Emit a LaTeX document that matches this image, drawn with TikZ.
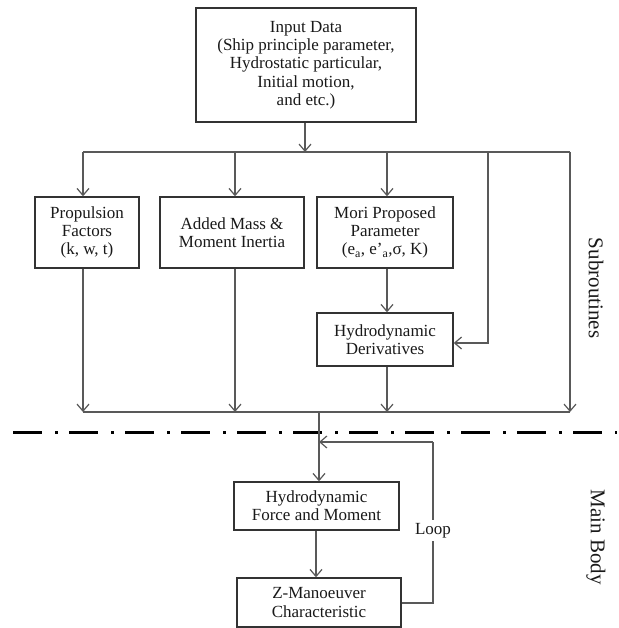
\documentclass[tikz,border=0pt]{standalone}
\usepackage{fontspec}
\setmainfont{Liberation Serif}
\usetikzlibrary{arrows.meta}
\tikzset{
  box/.style={draw=black!80, line width=1.4pt, align=center, inner sep=2pt,
    font=\fontsize{17}{18.3}\selectfont, text=black!90},
  conn/.style={draw=black!65, line width=1.2pt},
  arr/.style={conn, -{Straight Barb[length=7pt,width=12pt,line width=1.2pt]}},
  side/.style={font=\fontsize{21}{24}\selectfont, rotate=-90, text=black!90},
  divider/.style={line width=3pt, black, dash pattern=on 29pt off 13pt on 3pt off 11pt}
}
\begin{document}
\begin{tikzpicture}[x=1pt,y=-1pt]
\useasboundingbox (0,0) rectangle (618,628);
% boxes
\node[box, minimum width=220pt, minimum height=114pt] (input) at (306,65)
  {Input Data\\(Ship principle parameter,\\Hydrostatic particular,\\Initial motion,\\and etc.)};
\node[box, minimum width=104pt, minimum height=71pt] (prop) at (87,232.5)
  {Propulsion\\Factors\\(k, w, t)};
\node[box, minimum width=144pt, minimum height=71pt] (added) at (232,232.5)
  {Added Mass \&\\Moment Inertia};
\node[box, minimum width=136pt, minimum height=71pt] (mori) at (385,232.5)
  {Mori Proposed\\Parameter\\(e$_\mathrm{a}$, e'$_\mathrm{a}$,σ, K)};
\node[box, minimum width=136pt, minimum height=53pt] (deriv) at (385,339.5)
  {Hydrodynamic\\Derivatives};
\node[box, minimum width=165pt, minimum height=48pt] (force) at (316.5,506)
  {Hydrodynamic\\Force and Moment};
\node[box, minimum width=164pt, minimum height=49pt] (zman) at (319,602.5)
  {Z-Manoeuver\\Characteristic};
% side labels
\node[side] (sub) at (596,288) {Subroutines};
\node[side] (mainb) at (596,537) {Main Body};
% junction coordinates
\coordinate (tin) at (305,152);
\coordinate (t1) at (83,152);
\coordinate (t2) at (235,152);
\coordinate (t3) at (387,152);
\coordinate (t4) at (488,152);
\coordinate (t5) at (570,152);
\coordinate (b1) at (83,412);
\coordinate (b2) at (235,412);
\coordinate (b3) at (387,412);
\coordinate (b5) at (570,412);
\coordinate (bm) at (319,412);
\coordinate (dl) at (13,432);
\coordinate (dr) at (617,432);
\coordinate (lp1) at (433,603);
\coordinate (lp2) at (433,442);
\coordinate (lp3) at (319,442);
% top distribution
\draw[arr] (input.south -| tin) -- (tin);
\draw[conn] (t1) -- (t5);
\draw[arr] (t1) -- (t1 |- prop.north);
\draw[arr] (t2) -- (t2 |- added.north);
\draw[arr] (t3) -- (t3 |- mori.north);
\draw[arr] (mori.south -| t3) -- (deriv.north -| t3);
\draw[arr] (t4) |- (deriv.east |- 0,343);
\draw[arr] (t5) -- (b5);
% bottom collection
\draw[arr] (prop.south -| b1) -- (b1);
\draw[arr] (added.south -| b2) -- (b2);
\draw[arr] (deriv.south -| b3) -- (b3);
\draw[conn] (b1) -- (b5);
% divider
\draw[divider] (dl) -- (dr);
% main body
\draw[arr] (bm) -- (force.north -| bm);
\draw[arr] (force.south -| 316,0) -- (zman.north -| 316,0);
\draw[conn] (zman.east |- lp1) -- (lp1) -- node[pos=0.45, fill=white, inner sep=3pt,
  font=\fontsize{17}{18}\selectfont, text=black!90] (loop) {Loop} (lp2);
\draw[arr] (lp2) -- (lp3);
\end{tikzpicture}
\end{document}
